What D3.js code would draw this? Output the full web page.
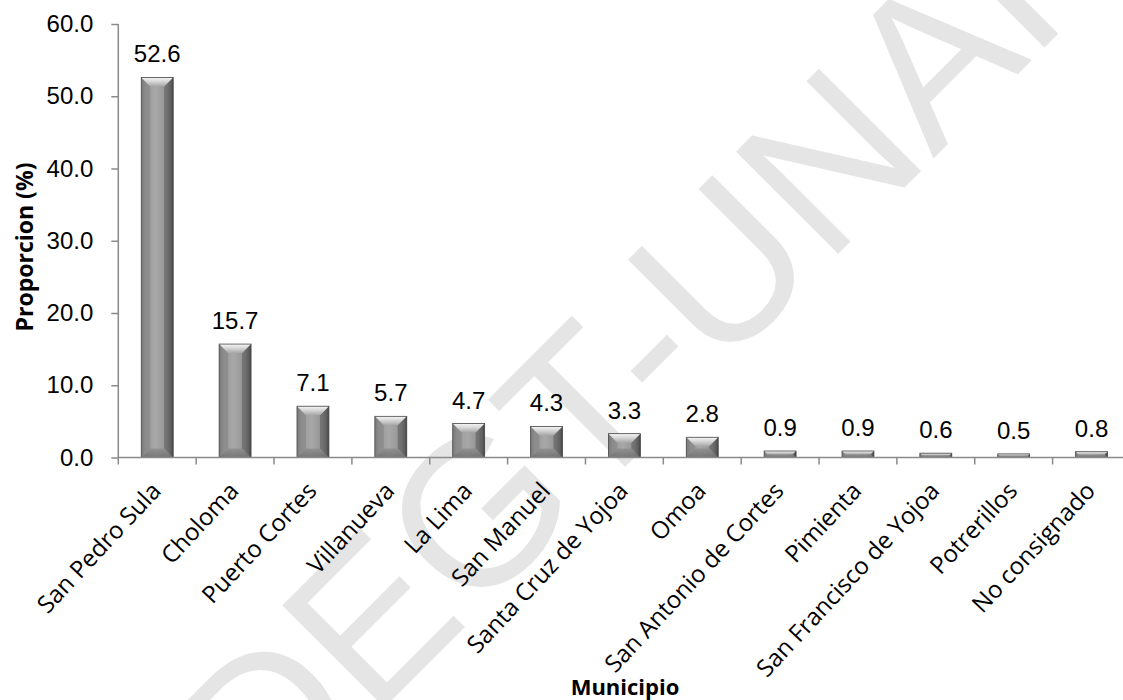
<!DOCTYPE html>
<html>
<head>
<meta charset="utf-8">
<script src="https://cdn.jsdelivr.net/npm/d3@7"></script>
<style>
  html, body { margin: 0; padding: 0; background: #ffffff; }
  svg { display: block; }
</style>
</head>
<body>
<svg id="chart" width="1123" height="700"></svg>
<script>
// Municipios y proporción de casos (%)
const municipios = [
  "San Pedro Sula", "Choloma", "Puerto Cortes", "Villanueva", "La Lima",
  "San Manuel", "Santa Cruz de Yojoa", "Omoa", "San Antonio de Cortes",
  "Pimienta", "San Francisco de Yojoa", "Potrerillos", "No consignado"
];
const proporcion = [52.6, 15.7, 7.1, 5.7, 4.7, 4.3, 3.3, 2.8, 0.9, 0.9, 0.6, 0.5, 0.8];
const yTicks = [0, 10, 20, 30, 40, 50, 60];
const yTitle = "Proporcion (%)";
const xTitle = "Municipio";
const marcaAgua = "DEGT-UNAH";

const svg = d3.select("#chart");

const x0 = 118.3, x1 = 118.3 + 13 * 77.86;
const yBase = 457.5, yTop = 24;

const x = d3.scaleBand()
  .domain(municipios)
  .range([x0, x1])
  .paddingInner(0.59)
  .paddingOuter(0.295);

const y = d3.scaleLinear().domain([0, 60]).range([yBase, yTop]);

// Gradients for the bevelled bars
const defs = svg.append("defs");
const body = defs.append("linearGradient").attr("id", "barBody")
  .attr("x1", 0).attr("x2", 1).attr("y1", 0).attr("y2", 0);
[[0, "#777777"], [0.12, "#979797"], [0.45, "#a8a8a8"], [0.8, "#939393"], [0.93, "#707070"], [1, "#3e3e3e"]]
  .forEach(([o, c]) => body.append("stop").attr("offset", o).attr("stop-color", c));
const topFacet = defs.append("linearGradient").attr("id", "barTop")
  .attr("x1", 0).attr("x2", 0).attr("y1", 0).attr("y2", 1);
[[0, "#f6f6f6"], [0.45, "#d6d6d6"], [1, "#a6a6a6"]]
  .forEach(([o, c]) => topFacet.append("stop").attr("offset", o).attr("stop-color", c));
const botFacet = defs.append("linearGradient").attr("id", "barBottom")
  .attr("x1", 0).attr("x2", 0).attr("y1", 0).attr("y2", 1);
[[0, "#8c8c8c"], [1, "#6c6c6c"]]
  .forEach(([o, c]) => botFacet.append("stop").attr("offset", o).attr("stop-color", c));

// Watermark behind the plot
svg.append("text")
  .attr("transform", "translate(265,827) rotate(-45)")
  .attr("font-family", "Liberation Sans, Arial, sans-serif")
  .attr("font-size", 210)
  .attr("fill", "#e5e5e5")
  .text(marcaAgua);

// Bars
const data = municipios.map((m, i) => ({ m, v: proporcion[i] }));
const bars = svg.append("g").selectAll("g").data(data).join("g");

bars.each(function (d) {
  const g = d3.select(this);
  const bx0 = x(d.m), bx1 = x(d.m) + x.bandwidth();
  const by0 = y(d.v), by1 = y(0);
  const h = by1 - by0, w = bx1 - bx0;
  const b = Math.min(9, h / 2, w / 2);
  g.append("rect")
    .attr("x", bx0).attr("y", by0).attr("width", w).attr("height", h)
    .attr("fill", "url(#barBody)");
  // left facet
  g.append("polygon")
    .attr("points", [[bx0, by0], [bx0 + b, by0 + b], [bx0 + b, by1 - b], [bx0, by1]].join(" "))
    .attr("fill", "#7c7c7c").attr("opacity", 0.45);
  // right facet
  g.append("polygon")
    .attr("points", [[bx1, by0], [bx1 - b, by0 + b], [bx1 - b, by1 - b], [bx1, by1]].join(" "))
    .attr("fill", "#4a4a4a").attr("opacity", 0.45);
  // bottom facet
  g.append("polygon")
    .attr("points", [[bx0, by1], [bx0 + b, by1 - b], [bx1 - b, by1 - b], [bx1, by1]].join(" "))
    .attr("fill", "url(#barBottom)").attr("opacity", 0.8);
  // top facet
  g.append("polygon")
    .attr("points", [[bx0, by0], [bx1, by0], [bx1 - b, by0 + b], [bx0 + b, by0 + b]].join(" "))
    .attr("fill", "url(#barTop)");
  g.append("rect")
    .attr("x", bx0).attr("y", by0).attr("width", w).attr("height", h)
    .attr("fill", "none").attr("stroke", "#4a4a4a").attr("stroke-width", 0.8);
});

// Value labels
svg.append("g").selectAll("text").data(data).join("text")
  .attr("x", d => x(d.m) + x.bandwidth() / 2)
  .attr("y", d => y(d.v) - 15)
  .attr("text-anchor", "middle")
  .attr("font-family", "Liberation Sans, Arial, sans-serif")
  .attr("font-size", 24)
  .attr("fill", "#000")
  .text(d => d.v.toFixed(1));

// Y axis
const yAxis = d3.axisLeft(y).tickValues(yTicks).tickSize(7).tickPadding(18)
  .tickFormat(d => d.toFixed(1));
const gy = svg.append("g").attr("transform", `translate(${x0},0)`).call(yAxis);
gy.select(".domain").attr("stroke", "#8a8a8a").attr("stroke-width", 1.5)
  .attr("d", `M0,${yTop}V${yBase}`);
gy.selectAll(".tick line").attr("stroke", "#8a8a8a").attr("stroke-width", 1.5);
gy.selectAll(".tick text")
  .attr("font-family", "Liberation Sans, Arial, sans-serif")
  .attr("font-size", 24).attr("fill", "#000");

// X axis: line plus ticks between categories
const step = x.step();
const boundaries = d3.range(municipios.length + 1).map(i => x0 + i * step);
svg.append("line")
  .attr("x1", x0).attr("x2", x1).attr("y1", yBase).attr("y2", yBase)
  .attr("stroke", "#8a8a8a").attr("stroke-width", 1.5);
svg.append("g").selectAll("line").data(boundaries).join("line")
  .attr("x1", d => d).attr("x2", d => d)
  .attr("y1", yBase).attr("y2", yBase + 7)
  .attr("stroke", "#8a8a8a").attr("stroke-width", 1.5);

// Category labels, rotated
svg.append("g").selectAll("text").data(municipios).join("text")
  .attr("transform", d => `translate(${x(d) + x.bandwidth() / 2 + 5},492) rotate(-47)`)
  .attr("text-anchor", "end")
  .attr("font-family", "Open Sans, sans-serif")
  .attr("font-size", 24)
  .attr("fill", "#000")
  .text(d => d);

// Axis titles
svg.append("text")
  .attr("transform", "translate(33,247) rotate(-90)")
  .attr("text-anchor", "middle")
  .attr("font-family", "Open Sans, sans-serif")
  .attr("font-weight", "bold")
  .attr("font-size", 23)
  .text(yTitle);

svg.append("text")
  .attr("x", 625).attr("y", 695)
  .attr("text-anchor", "middle")
  .attr("font-family", "Open Sans, sans-serif")
  .attr("font-weight", "bold")
  .attr("font-size", 22)
  .text(xTitle);
</script>
</body>
</html>
